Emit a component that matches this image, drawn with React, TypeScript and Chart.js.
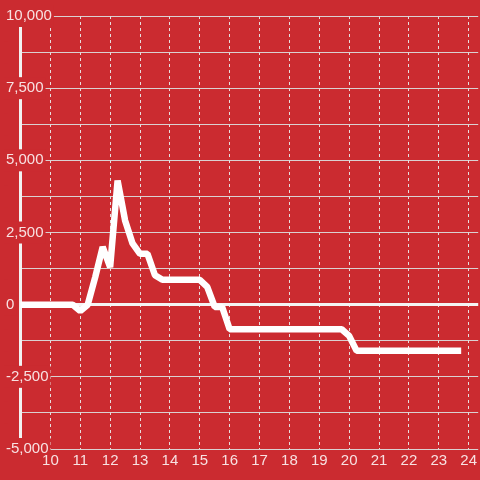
import { useEffect, useRef } from "react";
import { Chart, registerables } from "chart.js";
Chart.register(...registerables);

const hours = [
  8.75, 9, 9.25, 9.5, 9.75, 10, 10.25, 10.5, 10.75,
  11, 11.25, 11.5, 11.75, 12, 12.25, 12.5, 12.75, 13, 13.25, 13.5, 13.75,
  14, 14.25, 14.5, 14.75, 15, 15.25, 15.5, 15.75,
  16, 16.25, 16.5, 16.75, 17, 17.25, 17.5, 17.75, 18, 18.25, 18.5, 18.75, 19, 19.25, 19.5, 19.75,
  20, 20.25, 20.5, 20.75, 21, 21.25, 21.5, 21.75, 22, 22.25, 22.5, 22.75, 23, 23.25, 23.5, 23.75,
];
const values = [
  0, 0, 0, 0, 0, 0, 0, 0, 0,
  -220, 0, 950, 2000, 1300, 4300, 2920, 2120, 1760, 1760, 1020, 860,
  860, 860, 860, 860, 860, 620, -80, -80,
  -850, -850, -850, -850, -850, -850, -850, -850, -850, -850, -850, -850, -850, -850, -850, -850,
  -1080, -1600, -1600, -1600, -1600, -1600, -1600, -1600, -1600, -1600, -1600, -1600, -1600, -1600, -1600, -1600,
];
const xTickValues = [10, 11, 12, 13, 14, 15, 16, 17, 18, 19, 20, 21, 22, 23, 24];
const yTickValues = [-5000, -3750, -2500, -1250, 0, 1250, 2500, 3750, 5000, 6250, 7500, 8750, 10000];
const yLabelValues = [-5000, -2500, 0, 2500, 5000, 7500, 10000];

const RED = "#cb2b30";
const TEXT = "rgba(255,255,255,0.86)";
const FONT = { family: "'Liberation Sans', Arial, sans-serif", size: 15 };

export default function App() {
  const ref = useRef<HTMLCanvasElement | null>(null);
  useEffect(() => {
    if (!ref.current) return;
    const chart = new Chart(ref.current, {
      type: "line",
      data: {
        datasets: [
          {
            data: hours.map((h, i) => ({ x: h, y: values[i] })),
            borderColor: "#ffffff",
            borderWidth: 6.5,
            borderJoinStyle: "bevel",
            pointRadius: 0,
            tension: 0,
            fill: false,
          },
        ],
      },
      options: {
        animation: false,
        responsive: true,
        maintainAspectRatio: false,
        layout: { padding: { top: 16, left: 6, right: 0, bottom: 7 } },
        plugins: { legend: { display: false }, tooltip: { enabled: false } },
        scales: {
          x: {
            type: "linear",
            min: 9,
            max: 24.32,
            afterBuildTicks: (scale: any) => {
              scale.ticks = xTickValues.map((v) => ({ value: v }));
            },
            grid: { color: "rgba(232,232,232,0.95)", lineWidth: 1, drawTicks: false },
            border: { display: false, dash: [3, 3] },
            ticks: {
              color: TEXT,
              font: FONT,
              padding: 3,
              z: 2,
              maxRotation: 0,
              autoSkip: false,
              callback: (v: any) => String(v),
            },
          },
          y: {
            type: "linear",
            min: -5000,
            max: 10000,
            afterBuildTicks: (scale: any) => {
              scale.ticks = yTickValues.map((v) => ({ value: v }));
            },
            afterFit: (scale: any) => {
              scale.width = 14.5;
            },
            grid: {
              drawTicks: false,
              color: (ctx: any) => (ctx.tick && ctx.tick.value === 0 ? "#f4f4f4" : "rgba(218,218,218,0.95)"),
              lineWidth: (ctx: any) => (ctx.tick && ctx.tick.value === 0 ? 3 : 1),
            },
            border: { display: true, width: 3, color: "#f2f2f2" },
            ticks: {
              color: TEXT,
              font: FONT,
              mirror: true,
              crossAlign: "near",
              padding: -14.5,
              z: 1,
              autoSkip: false,
              showLabelBackdrop: true,
              backdropColor: RED,
              backdropPadding: 2,
              callback: (v: any) =>
                yLabelValues.includes(Number(v)) ? Number(v).toLocaleString("en-US") : "",
            },
          },
        },
      },
    } as any);
    return () => chart.destroy();
  }, []);
  return (
    <div style={{ position: "fixed", left: 0, top: 0, width: 480, height: 480, background: RED }}>
      <canvas ref={ref} />
    </div>
  );
}
